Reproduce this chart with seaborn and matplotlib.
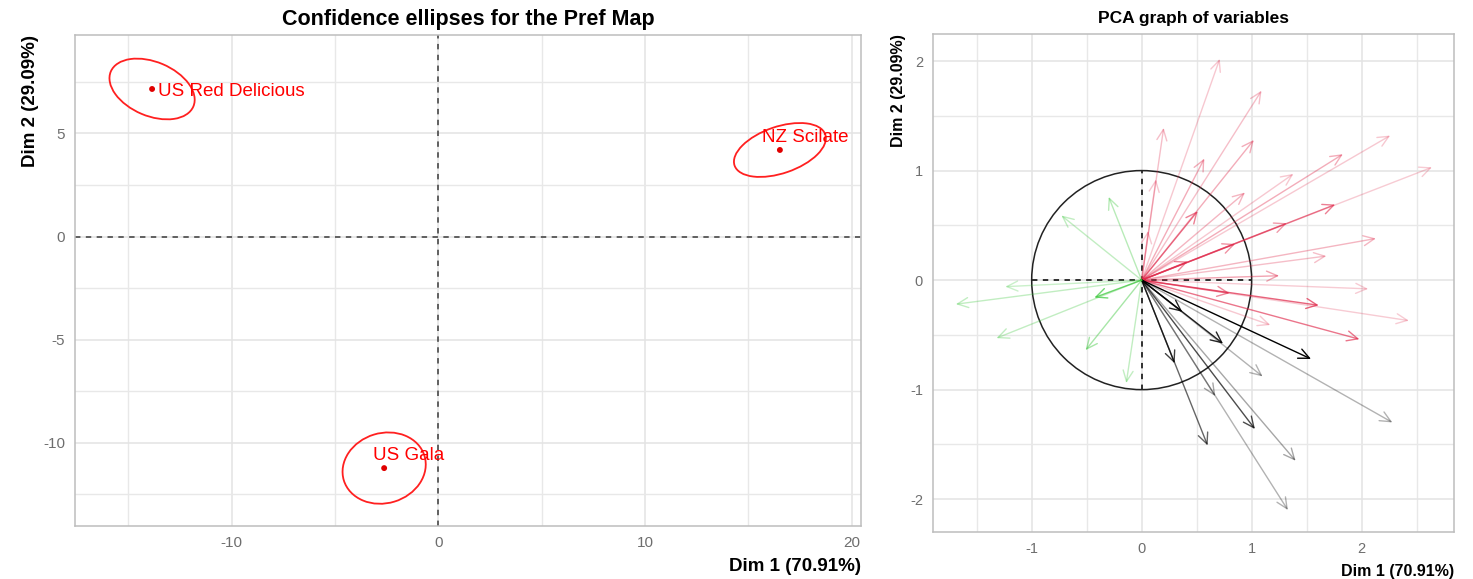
import numpy as np
import pandas as pd
import seaborn as sns
import matplotlib.pyplot as plt
from matplotlib.patches import Ellipse, Circle
from matplotlib.ticker import MultipleLocator

# products on the pref map (individual coordinates)
products = ["US Red Delicious", "NZ Scilate", "US Gala"]
prod_dim1 = [-13.85, 16.53, -2.62]
prod_dim2 = [7.16, 4.20, -11.24]
# confidence ellipses: semi axes + rotation (deg)
ell_a = [2.17, 2.32, 2.04]
ell_b = [1.31, 1.13, 1.70]
ell_angle = [-23, 19, 17]

# variables (arrows) on the correlation circle, three groups
red_x = [0.71, 1.09, 0.20, 1.02, 0.57, 2.26, 2.64, 1.83, 1.38, 0.94, 1.76, 0.51, 0.13,
         0.06, 1.32, 0.85, 0.42, 2.13, 1.68, 1.25, 2.06, 0.80, 1.61, 2.43, 1.17, 1.98]
red_y = [2.02, 1.73, 1.39, 1.28, 1.11, 1.32, 1.03, 1.15, 0.97, 0.80, 0.69, 0.63, 0.92,
         0.45, 0.52, 0.33, 0.17, 0.38, 0.22, 0.04, -0.08, -0.12, -0.23, -0.37, -0.41, -0.54]
red_q = [0.30, 0.35, 0.35, 0.45, 0.45, 0.30, 0.28, 0.45, 0.30, 0.40, 0.70, 0.70, 0.30,
         0.30, 0.55, 0.60, 0.65, 0.40, 0.35, 0.50, 0.28, 0.65, 0.85, 0.28, 0.30, 0.75]

black_x = [0.37, 0.74, 1.54, 0.30, 1.10, 0.67, 1.03, 2.28, 0.60, 1.40, 1.33]
black_y = [-0.29, -0.58, -0.72, -0.76, -0.88, -1.06, -1.36, -1.30, -1.51, -1.65, -2.10]
black_q = [0.85, 0.85, 1.00, 0.75, 0.30, 0.35, 0.70, 0.30, 0.60, 0.35, 0.30]

green_x = [-0.30, -0.73, -1.24, -1.69, -0.43, -1.32, -0.51, -0.14]
green_y = [0.76, 0.59, -0.06, -0.22, -0.16, -0.53, -0.64, -0.94]
green_q = [0.40, 0.35, 0.30, 0.35, 0.80, 0.35, 0.50, 0.35]

pref = pd.DataFrame({"product": products, "Dim1": prod_dim1, "Dim2": prod_dim2})
arrows = pd.concat([
    pd.DataFrame({"x": red_x, "y": red_y, "q": red_q, "group": "red"}),
    pd.DataFrame({"x": black_x, "y": black_y, "q": black_q, "group": "black"}),
    pd.DataFrame({"x": green_x, "y": green_y, "q": green_q, "group": "green"}),
])
group_colors = {"red": "#E0284A", "black": "#000000", "green": "#3CC83C"}
group_alpha = {"red": 0.85, "black": 1.0, "green": 0.9}

sns.set_theme(style="whitegrid")
plt.rcParams["font.family"] = ["Liberation Sans", "DejaVu Sans"]
plt.rcParams["axes.unicode_minus"] = False
plt.rcParams["text.color"] = "black"
plt.rcParams["axes.labelcolor"] = "black"

fig = plt.figure(figsize=(14.73, 5.79), dpi=100)
ax1 = fig.add_axes([75 / 1473, 1 - 526 / 579, (860.7 - 75) / 1473, (526 - 35) / 579])
ax2 = fig.add_axes([932.7 / 1473, 1 - 532 / 579, (1454 - 932.7) / 1473, (532 - 34) / 579])


def style_axes(ax, major_x, major_y, tick_size):
    ax.xaxis.set_major_locator(MultipleLocator(major_x))
    ax.xaxis.set_minor_locator(MultipleLocator(major_x / 2))
    ax.yaxis.set_major_locator(MultipleLocator(major_y))
    ax.yaxis.set_minor_locator(MultipleLocator(major_y / 2))
    ax.grid(which="major", color="#E3E3E3", linewidth=1.1)
    ax.grid(which="minor", color="#E8E8E8", linewidth=1.0)
    for s in ax.spines.values():
        s.set_color("#BDBDBD")
        s.set_linewidth(1.1)
    ax.tick_params(which="major", length=4, width=0.9, color="#BDBDBD",
                   labelcolor="#6E6E6E", labelsize=tick_size, pad=3)
    ax.tick_params(which="minor", length=0)
    ax.set_axisbelow(True)


# ---- left: confidence ellipses
style_axes(ax1, 10, 5, 11)
ax1.set_xlim(-17.58, 20.44)
ax1.set_ylim(-14.05, 9.78)
ax1.axhline(0, color="#555555", ls=(0, (3, 3)), lw=1.3)
ax1.axvline(0, color="#555555", ls=(0, (3, 3)), lw=1.3)
for i, row in pref.iterrows():
    ax1.add_patch(Ellipse((row.Dim1, row.Dim2), 2 * ell_a[i], 2 * ell_b[i], angle=ell_angle[i],
                          fill=False, edgecolor="#FF2020", lw=1.3))
sns.scatterplot(data=pref, x="Dim1", y="Dim2", ax=ax1, color="#E00000", s=18,
                edgecolor="none", legend=False, zorder=5)
nudges = [(4, -2), (-13, 9), (-8, 9)]
for (name, x, y), (dx, dy) in zip(pref[["product", "Dim1", "Dim2"]].values, nudges):
    ax1.annotate(name, (x, y), xytext=(dx, dy), textcoords="offset points",
                 ha="left", va="center", color="#FF0000", fontsize=13.5)
ax1.set_title("Confidence ellipses for the Pref Map", fontsize=15.5, fontweight="bold", pad=7)
ax1.set_xlabel("Dim 1 (70.91%)", fontsize=13.5, fontweight="bold", loc="right", labelpad=6)
ax1.set_ylabel("Dim 2 (29.09%)", fontsize=13.5, fontweight="bold", loc="top", labelpad=3)

# ---- right: variables
style_axes(ax2, 1, 1, 10.5)
ax2.set_xlim(-1.90, 2.84)
ax2.set_ylim(-2.30, 2.247)
ax2.add_patch(Circle((0, 0), 1, fill=False, edgecolor="#222222", lw=1.1))
ax2.plot([-1, 1], [0, 0], color="#222222", ls=(0, (3, 3)), lw=1.3)
ax2.plot([0, 0], [-1, 1], color="#222222", ls=(0, (3, 3)), lw=1.3)
for _, r in arrows.iterrows():
    ax2.annotate("", xy=(r.x, r.y), xytext=(0, 0),
                 arrowprops=dict(arrowstyle="->,head_length=0.65,head_width=0.3",
                                 color=group_colors[r.group], alpha=r.q * group_alpha[r.group],
                                 lw=1.0, shrinkA=0, shrinkB=0))
ax2.set_title("PCA graph of variables", fontsize=12.5, fontweight="bold", pad=8)
ax2.set_xlabel("Dim 1 (70.91%)", fontsize=11.5, fontweight="bold", loc="right", labelpad=6)
ax2.set_ylabel("Dim 2 (29.09%)", fontsize=11.5, fontweight="bold", loc="top", labelpad=3)

fig.savefig("out.png", dpi=100)
